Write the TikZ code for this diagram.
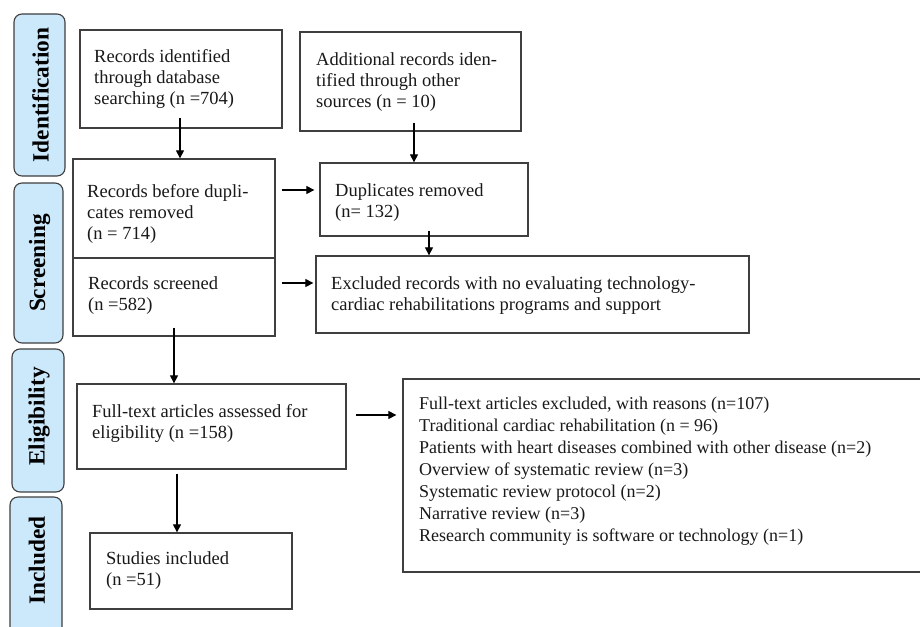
\documentclass[tikz,border=0pt]{standalone}
\usepackage{fontspec}
\setmainfont{Liberation Serif}
\usetikzlibrary{arrows.meta,fit}
\definecolor{lblue}{HTML}{CCE8FB}
\definecolor{bord}{HTML}{3F3F3F}
\begin{document}
\begin{tikzpicture}[x=1pt,y=-1pt,
  box/.style={draw=bord, line width=1.3pt, inner sep=0pt, rectangle},
  lab/.style={draw=bord, line width=1.1pt, fill=lblue, rounded corners=8pt, inner sep=0pt, rectangle},
  labtxt/.style={rotate=90, inner sep=0pt, font=\bfseries\fontsize{23.3}{25}\selectfont, text=black},
  txt/.style={anchor=north west, inner sep=0pt, align=left, font=\fontsize{18.5}{21}\selectfont, text=black!90},
  ltxt/.style={txt, font=\fontsize{18}{21.9}\selectfont},
  arr/.style={-{Triangle[length=8pt,width=8pt]}, line width=1.1pt, black}]
\useasboundingbox (0,0) rectangle (920,626);
\fill[white] (0,0) rectangle (920,626);

% side labels
\node[lab, fit={(14,14)(65,176)}] (ident) {};
\node[lab, fit={(14,183)(63,343)}] (screen) {};
\node[lab, fit={(12,349)(64,492)}] (elig) {};
\node[lab, fit={(10,497)(62,640)}] (incl) {};
\node[labtxt] (identT) at ([xshift=1pt]ident.center) {Identification};
\node[labtxt] (screenT) at ([xshift=1pt]screen.center) {Screening};
\node[labtxt] (eligT) at ([xshift=1pt,yshift=4pt]elig.center) {Eligibility};
\node[labtxt] (inclT) at ([xshift=1pt,yshift=8pt]incl.center) {Included};

% boxes
\node[box, fit={(80,30)(282,128)}] (rid) {};
\node[box, fit={(300,32)(521,131)}] (add) {};
\node[box, fit={(73,159)(275,258)}] (rbd) {};
\node[box, fit={(73,258)(275,336)}] (scr) {};
\node[box, fit={(320,163)(528,236)}] (dup) {};
\node[box, fit={(316,256)(749,333)}] (excl) {};
\node[box, fit={(77,384)(346,469)}] (full) {};
\node[box, fit={(90,533)(292,609)}] (stud) {};
\node[box, fit={(403,379)(922,572)}] (fexc) {};

% texts
\node[txt] (ridT) at (94,47.3) {\strut Records identified\\through database\\searching (n =704)};
\node[txt] (addT) at (316,50.3) {\strut Additional records iden-\\tified through other\\sources (n = 10)};
\node[txt] (rbdT) at (87,182.3) {\strut Records before dupli-\\cates removed\\(n = 714)};
\node[txt] (scrT) at (88,274.3) {\strut Records screened\\(n =582)};
\node[txt] (dupT) at (335,181.3) {\strut Duplicates removed\\(n= 132)};
\node[txt] (exclT) at (331,274.3) {\strut Excluded records with no evaluating technology-\\cardiac rehabilitations programs and support};
\node[txt] (fullT) at (92,402.3) {\strut Full-text articles assessed for\\eligibility (n =158)};
\node[txt] (studT) at (106,549.3) {\strut Studies included\\(n =51)};
\node[ltxt] (fexcT) at (419,394.3) {\strut Full-text articles excluded, with reasons (n=107)\\
Traditional cardiac rehabilitation (n = 96)\\
Patients with heart diseases combined with other disease (n=2)\\
Overview of systematic review (n=3)\\
Systematic review protocol (n=2)\\
Narrative review (n=3)\\
Research community is software or technology (n=1)};

% arrows
\draw[arr] ([xshift=-1pt,yshift=11pt]rid.south) -- ([xshift=-1pt]rid.south |- rbd.north);
\draw[arr] ([xshift=3.5pt,yshift=9pt]add.south) -- ([xshift=3.5pt]add.south |- dup.north);
\draw[arr] ([xshift=6pt,yshift=18.5pt]rbd.east) -- ([xshift=-5pt,yshift=9.5pt]dup.west);
\draw[arr] ([xshift=5pt,yshift=6pt]dup.south) -- ([xshift=5pt]dup.south |- excl.north);
\draw[arr] ([xshift=6pt,yshift=14pt]scr.east) -- ([xshift=-2pt,yshift=11.5pt]excl.west);
\draw[arr] ([yshift=9pt]scr.south) -- (scr.south |- full.north);
\draw[arr] ([xshift=-34.5pt,yshift=-4pt]full.south) -- ([xshift=-34.5pt]full.south |- stud.north);
\draw[arr] ([xshift=9pt,yshift=11.5pt]full.east) -- ([xshift=-6pt,yshift=60.5pt]fexc.west);
\end{tikzpicture}
\end{document}
